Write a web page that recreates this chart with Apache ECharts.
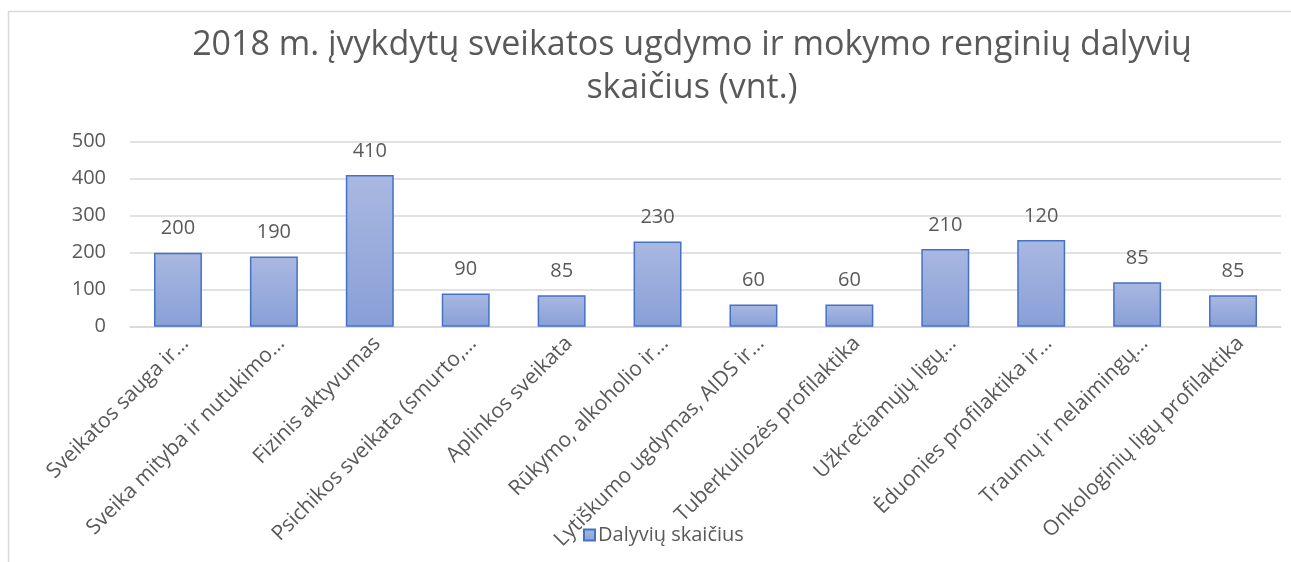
<!DOCTYPE html>
<html>
<head>
<meta charset="utf-8">
<script src="https://cdn.jsdelivr.net/npm/echarts@6/dist/echarts.min.js"></script>
<style>
html,body{margin:0;padding:0;background:#fff;}
#chart{width:1291px;height:562px;}
</style>
</head>
<body>
<div id="chart"></div>
<script>
const titleText = "2018 m. įvykdytų sveikatos ugdymo ir mokymo renginių dalyvių\nskaičius (vnt.)";
const seriesName = "Dalyvių skaičius";
const categories = [
  "Sveikatos sauga ir…",
  "Sveika mityba ir nutukimo…",
  "Fizinis aktyvumas",
  "Psichikos sveikata (smurto,…",
  "Aplinkos sveikata",
  "Rūkymo, alkoholio ir…",
  "Lytiškumo ugdymas, AIDS ir…",
  "Tuberkuliozės profilaktika",
  "Užkrečiamųjų ligų…",
  "Ėduonies profilaktika ir…",
  "Traumų ir nelaimingų…",
  "Onkologinių ligų profilaktika"
];
const barValues = [200, 190, 410, 90, 85, 230, 60, 60, 210, 234, 120, 85];
const labelValues = [200, 190, 410, 90, 85, 230, 60, 60, 210, 120, 85, 85];
const yTicks = [0, 100, 200, 300, 400, 500];

const chart = echarts.init(document.getElementById('chart'), null, {renderer: 'canvas'});
const font = "'Open Sans', 'Noto Sans', sans-serif";
const gray = '#595959';
chart.setOption({
  animation: false,
  textStyle: {fontFamily: font},
  graphic: [{
    type: 'rect', silent: true, z: -10,
    shape: {x: 8.5, y: 11.5, width: 1400, height: 700},
    style: {fill: 'none', stroke: '#d9d9d9', lineWidth: 1.5}
  }],
  title: {
    text: titleText,
    left: 687, top: 19, textAlign: 'center',
    textStyle: {fontFamily: font, fontSize: 34, fontWeight: 'normal', color: gray, lineHeight: 43}
  },
  legend: {
    data: [seriesName],
    left: 578, top: 520,
    icon: 'rect', itemWidth: 11, itemHeight: 11, itemGap: 4,
    textStyle: {fontFamily: font, fontSize: 20, color: gray, padding: [0,0,0,-2]}
  },
  grid: {left: 130, right: 10, top: 141.7, bottom: 235.3, containLabel: false},
  xAxis: {
    type: 'category', data: categories,
    axisLine: {lineStyle: {color: '#d9d9d9', width: 1.5}},
    axisTick: {show: false},
    axisLabel: {interval: 0, rotate: 45, margin: 6, verticalAlign: 'top', fontFamily: font, fontSize: 21, color: gray}
  },
  yAxis: {
    type: 'value', min: yTicks[0], max: yTicks[yTicks.length - 1], interval: 100,
    axisLine: {show: false}, axisTick: {show: false},
    splitLine: {lineStyle: {color: '#d9d9d9', width: 1.5}},
    axisLabel: {margin: 24, fontFamily: font, fontSize: 20, color: gray}
  },
  series: [{
    name: seriesName, type: 'bar', data: barValues, barWidth: '50%',
    itemStyle: {
      color: new echarts.graphic.LinearGradient(0, 0, 0, 1, [
        {offset: 0, color: '#aab8e1'}, {offset: 1, color: '#889fd7'}
      ]),
      borderColor: '#4472c4', borderWidth: 1.5
    },
    label: {
      show: true, position: 'top', distance: 14,
      fontFamily: font, fontSize: 20, color: gray,
      formatter: p => String(labelValues[p.dataIndex])
    }
  }]
});
</script>
</body>
</html>
